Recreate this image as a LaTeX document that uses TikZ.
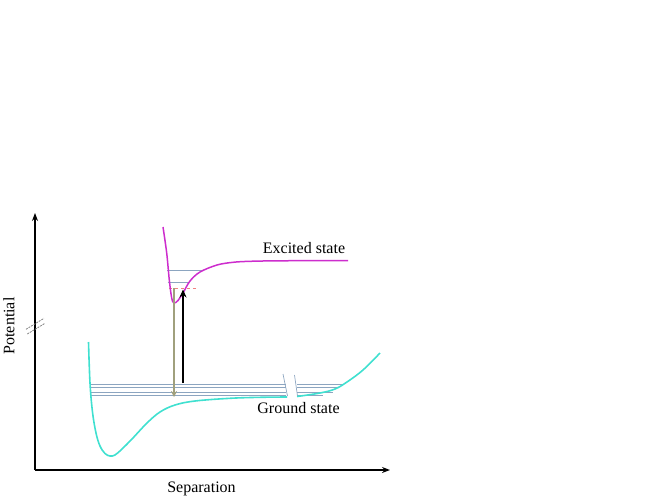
\documentclass[tikz,border=0pt]{standalone}
\usepackage{fontspec}
\setmainfont{Liberation Serif}
\usetikzlibrary{arrows.meta}
\definecolor{turq}{RGB}{64,224,208}
\definecolor{mag}{RGB}{205,45,205}
\definecolor{lvl}{RGB}{140,165,192}
\definecolor{olivearr}{RGB}{160,160,125}
\definecolor{pinkd}{RGB}{240,130,130}
\tikzset{
  axis/.style={line width=1.5pt,-{Stealth[length=8pt,width=6pt]}},
  curveg/.style={turq,line width=1.6pt},
  curvee/.style={mag,line width=1.5pt},
  level/.style={lvl,line width=0.9pt},
  brk/.style={lvl,line width=0.7pt},
  axbrk/.style={gray,line width=0.8pt,dash pattern=on 2pt off 1pt},
  lab/.style={font=\fontsize{16}{19}\selectfont,inner sep=0pt},
  emit/.style={olivearr,line width=2pt,-{Stealth[length=6pt,width=6pt]}},
  absorb/.style={black,line width=2.4pt,-{Stealth[length=8pt,width=7pt]}}
}
\begin{document}
\begin{tikzpicture}[x=1pt,y=-1pt]
\useasboundingbox (0,0) rectangle (664,498);
% axes
\coordinate (O) at (35,470);
\coordinate (ytop) at (35,213);
\coordinate (xend) at (390,470);
\draw[axis] (O) -- (ytop);
\draw[axis] (O) -- (xend);
% axis break marks
\coordinate (b1a) at (26,329.3); \coordinate (b1b) at (44,318.3);
\coordinate (b2a) at (27.3,334); \coordinate (b2b) at (45,323.3);
\draw[axbrk] (b1a) -- (b1b);
\draw[axbrk] (b2a) -- (b2b);
% ground state levels
\foreach \yy/\xr in {384/343,387.3/339,392/333,395.5/323}{
  \draw[level] (91,\yy) -- (286,\yy);
  \draw[level] (297,\yy) -- (\xr,\yy);
}
\draw[brk] (283,374) -- (287.5,396);
\draw[brk] (294.5,375) -- (297.5,396);
% ground curve
\draw[curveg] plot[smooth,tension=0.6] coordinates {(88.5,342) (90,383) (92.5,412) (96,433) (100,446) (105,453.5) (110,456) (115,455) (122,449) (132,439) (147,423) (160,412) (175,405) (195,401) (230,398.3) (260,397.3) (287,397)};
\draw[curveg] plot[smooth,tension=0.6] coordinates {(297,396.5) (320,393) (335,389) (347,382) (363,370) (380,353)};
% excited levels
\draw[level] (167,270.7) -- (203,270.7);
\draw[level] (167.5,282) -- (189,282);
\draw[pinkd,line width=0.8pt,dashed] (169,288.3) -- (198,288.3);
% excited curve
\draw[curvee] plot[smooth,tension=0.55] coordinates {(163,227) (166.7,253) (169.3,280) (171.7,298) (174,303) (178,300.5) (183,293) (190,281) (200,272) (217,265) (233,262.3) (250,261.3) (280,260.8) (348,260.5)};
% transitions
\coordinate (e1) at (174,288); \coordinate (g1) at (174,397);
\coordinate (g2) at (183,383); \coordinate (e2) at (183,289.5);
\draw[emit] (e1) -- (g1);
\draw[absorb] (g2) -- (e2);
% labels
\node[lab] (exc) at (304,248) {Excited state};
\node[lab] (gnd) at (298.5,408.5) {Ground state};
\node[lab] (sep) at (201.5,488.5) {Separation};
\node[lab,rotate=90] (pot) at (9,326) {Potential};
\end{tikzpicture}
\end{document}
